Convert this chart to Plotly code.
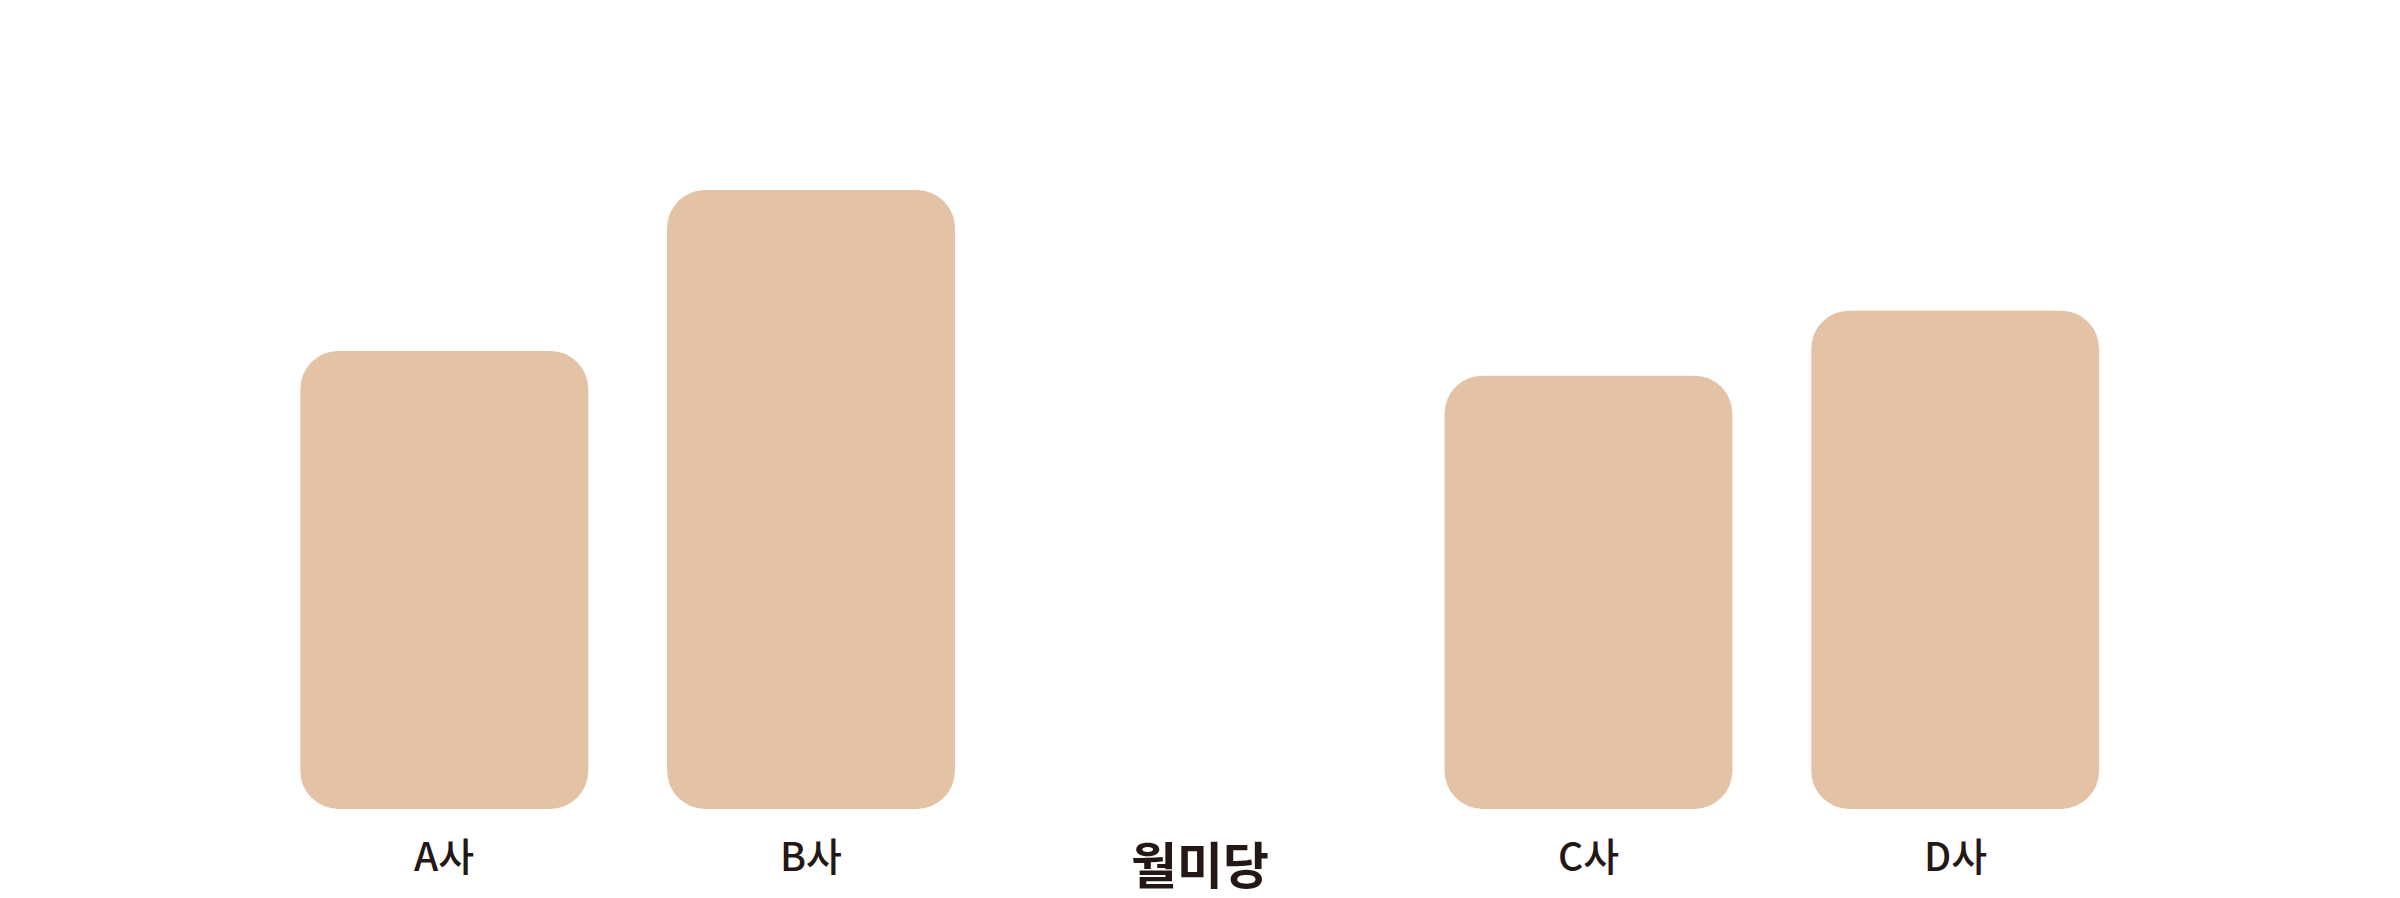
import plotly.graph_objects as go
from itertools import accumulate

# ---- data ----
categories = ["A사", "B사", "월미당", "C사", "D사"]
values = [74, 100, None, 70, 80.5]

# ---- style ----
BAR_COLOR = "#E3C2A6"
TEXT_COLOR = "#231815"
FONT = "Noto Sans CJK KR"
slot_steps = [0, 1, 1.06, 1.06, 1]          # spacing between category slots
positions = list(accumulate(slot_steps))
BAR_W = 0.785
RADIUS = 38

bx = [p for p, v in zip(positions, values) if v is not None]
bv = [v for v in values if v is not None]

fig = go.Figure()
# an explicit base makes plotly round all four corners of each bar
fig.add_trace(go.Bar(
    x=bx, y=bv, base=[0] * len(bv), width=BAR_W,
    marker=dict(color=BAR_COLOR, line=dict(width=0), cornerradius=RADIUS),
    hoverinfo="skip", showlegend=False))

for p, c, v in zip(positions, categories, values):
    big = v is None
    fig.add_annotation(
        x=p, y=0, xref="x", yref="y", text=c, showarrow=False,
        yanchor="middle", yshift=-53 if big else -45,
        font=dict(family=FONT, size=50 if big else 39, color=TEXT_COLOR,
                  weight=700 if big else 500))

fig.update_layout(
    width=2400, height=898, barmode="overlay",
    margin=dict(l=0, r=0, t=0, b=89),
    paper_bgcolor="white", plot_bgcolor="white",
    xaxis=dict(range=[-1.2116, 5.333], visible=False, fixedrange=True),
    yaxis=dict(range=[0, 130.7], visible=False, fixedrange=True),
)
fig.write_html("out.html", config={"displayModeBar": False},
               post_script="document.body.style.margin='0';document.body.style.overflow='hidden';")
